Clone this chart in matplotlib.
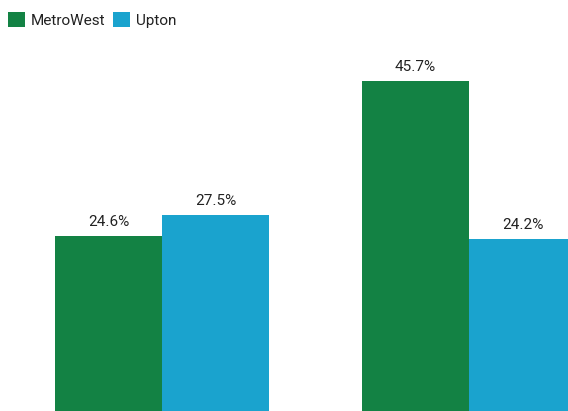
import matplotlib.pyplot as plt
import numpy as np

plt.rcParams['font.family'] = ['Roboto', 'DejaVu Sans']

groups = ['Group 1', 'Group 2']
series = ['MetroWest', 'Upton']
metrowest = [24.6, 45.7]
upton = [27.5, 24.2]
colors = ['#138244', '#1aa3ce']

W, H = 568, 411
fig = plt.figure(figsize=(W / 100, H / 100), dpi=100)
ax = fig.add_axes([0, 0, 1, 1])

x = np.arange(len(groups))
width = 107 / 307
b1 = ax.bar(x - width / 2, metrowest, width, color=colors[0], label=series[0])
b2 = ax.bar(x + width / 2, upton, width, color=colors[1], label=series[1])

for bars, vals in [(b1, metrowest), (b2, upton)]:
    for rect, v in zip(bars, vals):
        ax.annotate(f'{v}%', (rect.get_x() + rect.get_width() / 2, v),
                    xytext=(0, 7), textcoords='offset pixels',
                    ha='center', va='bottom', fontsize=11, color='#222222')

# pixel mapping: group centres at 162 and 469 px, baseline ~6 px below the bottom edge
px_per_unit = 307
ax.set_xlim(-162 / px_per_unit, (W - 162) / px_per_unit)
px_per_pct = 7.346
ax.set_ylim(6 / px_per_pct, 417 / px_per_pct)
ax.axis('off')

fig.legend(loc='upper left', bbox_to_anchor=(8 / W, 1 - 12 / H), frameon=False,
           fontsize=11, handlelength=1.1, handleheight=1.1,
           handletextpad=0.4, columnspacing=0.5, ncol=2,
           borderaxespad=0, borderpad=0, labelcolor='#222222')

fig.savefig('out.png', dpi=100)
